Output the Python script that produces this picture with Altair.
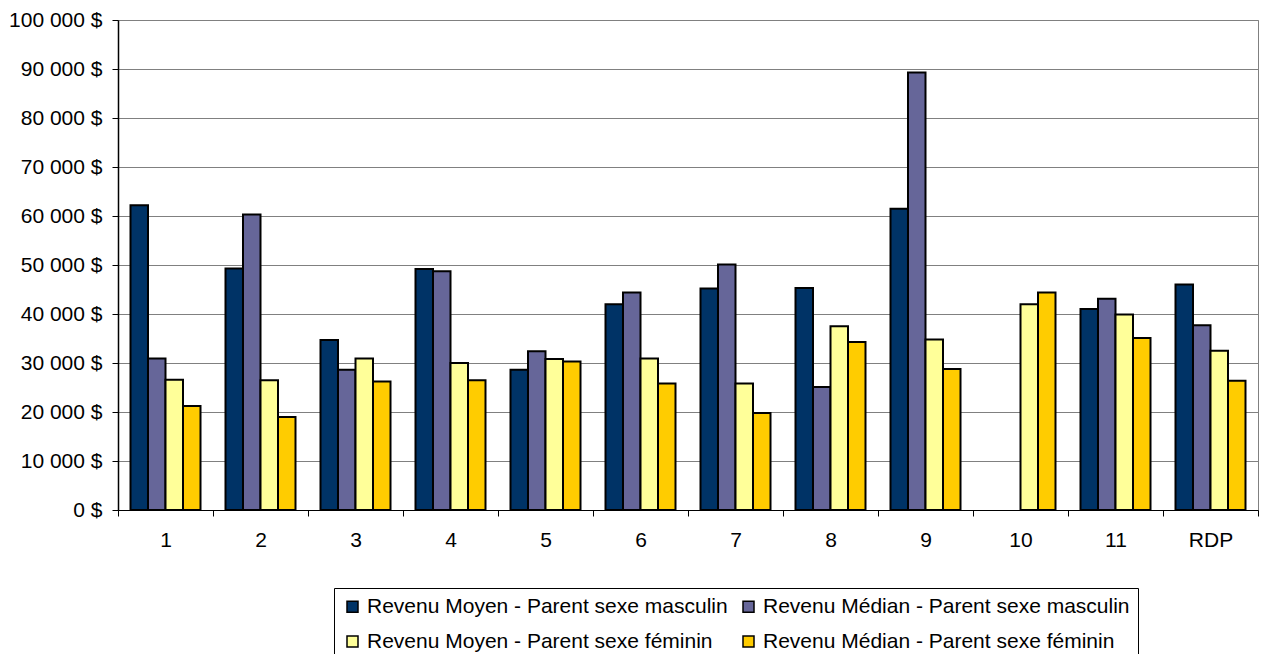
import altair as alt
import pandas as pd

categories = ["1", "2", "3", "4", "5", "6", "7", "8", "9", "10", "11", "RDP"]
series_names = [
    "Revenu Moyen - Parent sexe masculin",
    "Revenu Médian - Parent sexe masculin",
    "Revenu Moyen - Parent sexe féminin",
    "Revenu Médian - Parent sexe féminin",
]
moyen_masc = [62200, 49300, 34700, 49200, 28600, 42000, 45200, 45300, 61500, None, 41000, 46000]
median_masc = [30900, 60300, 28600, 48700, 32400, 44400, 50100, 25100, 89300, None, 43100, 37700]
moyen_fem = [26600, 26500, 30900, 30000, 30800, 30900, 25800, 37500, 34800, 42000, 39900, 32500]
median_fem = [21200, 19000, 26200, 26500, 30300, 25800, 19800, 34300, 28800, 44400, 35100, 26400]
colors = ["#003366", "#666699", "#FFFF99", "#FFCC00"]

rows = []
for name, vals in zip(series_names, [moyen_masc, median_masc, moyen_fem, median_fem]):
    for c, v in zip(categories, vals):
        rows.append({"cat": c, "serie": name, "val": v})
df = pd.DataFrame(rows)

FONT = "Liberation Sans"

chart = alt.Chart(df).mark_bar(stroke="black", strokeWidth=2).encode(
    x=alt.X("cat:N", sort=categories,
            scale=alt.Scale(paddingInner=0, paddingOuter=0),
            axis=alt.Axis(title=None, labelAngle=0, tickBand="extent", tickSize=6,
                          labelPadding=13, labelFontSize=21, labelColor="black",
                          labelFont=FONT, domainColor="black", domainWidth=1.2,
                          tickColor="black", tickWidth=1, grid=False)),
    xOffset=alt.XOffset("serie:N", sort=series_names,
                        scale=alt.Scale(domain=series_names, paddingInner=0, paddingOuter=0.714)),
    y=alt.Y("val:Q",
            scale=alt.Scale(domain=[0, 100000], nice=False),
            axis=alt.Axis(title=None, values=list(range(0, 100001, 10000)), tickSize=6,
                          labelPadding=10, labelFontSize=21, labelColor="black", labelFont=FONT,
                          labelExpr="replace(format(datum.value, ','), ',', ' ') + ' $'",
                          domainColor="black", domainWidth=1.5, tickColor="black",
                          gridColor="#808080", gridWidth=1)),
    color=alt.Color("serie:N", sort=series_names,
                    scale=alt.Scale(domain=series_names, range=colors),
                    legend=alt.Legend(title=None, orient="none", legendX=216, legendY=568,
                                      direction="horizontal",
                                      columns=2, columnPadding=10, rowPadding=13,
                                      symbolType="square", symbolSize=121,
                                      symbolStrokeColor="black", symbolStrokeWidth=1.5,
                                      labelFontSize=21, labelFont=FONT, labelColor="black",
                                      labelOffset=4, labelLimit=600,
                                      strokeColor="black", padding=8)),
).properties(
    width=1140, height=490,
    autosize=alt.AutoSizeParams(type="none"),
    padding={"left": 110, "top": 12, "right": 4, "bottom": 144},
).configure_view(stroke="#808080", strokeWidth=1)

chart.save("out.html", embed_options={"renderer": "svg", "actions": False})
